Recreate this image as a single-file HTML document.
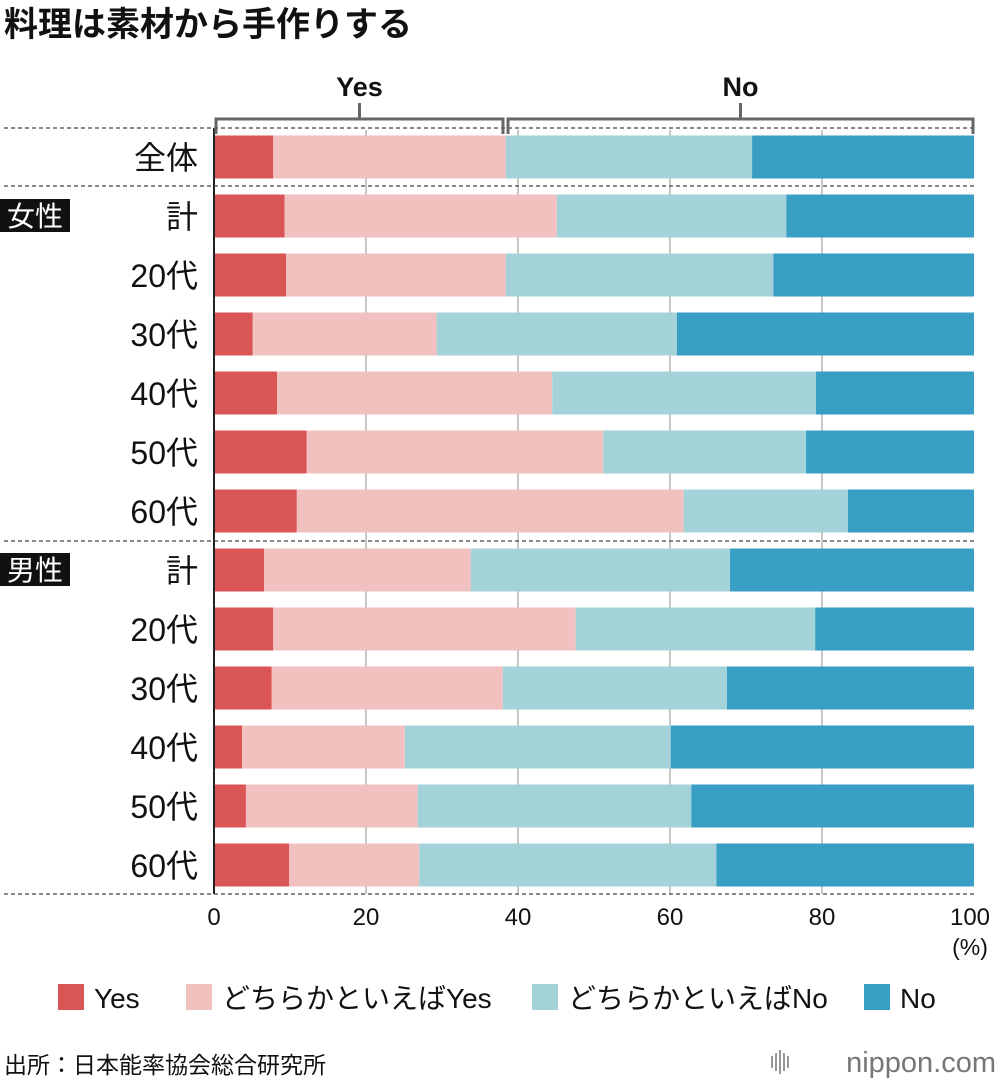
<!DOCTYPE html>
<html><head><meta charset="utf-8">
<style>
body{margin:0;background:#fff;font-family:"Liberation Sans","Noto Sans CJK JP",sans-serif;}
#wrap{position:relative;width:1000px;height:1086px;overflow:hidden;}
</style></head>
<body>
<div id="wrap">
<svg id="chart" width="1000" height="1086" xmlns="http://www.w3.org/2000/svg" font-family="Liberation Sans, Noto Sans CJK JP, sans-serif"></svg>
</div>
<script>
const categories=["全体","計","20代","30代","40代","50代","60代","計","20代","30代","40代","50代","60代"];
const yesVals=[7.8,9.3,9.5,5.1,8.3,12.2,10.9,6.6,7.8,7.6,3.7,4.2,9.9];
const someYesVals=[30.6,35.8,28.9,24.2,36.2,39.0,50.9,27.2,39.8,30.4,21.4,22.6,17.1];
const someNoVals=[32.4,30.2,35.2,31.6,34.7,26.7,21.6,34.1,31.5,29.5,35.0,36.0,39.1];
const noVals=[29.2,24.7,26.4,39.1,20.8,22.1,16.6,32.1,20.9,32.5,39.9,37.2,33.9];
const ticks=[0,20,40,60,80,100];
const seriesNames=["Yes","どちらかといえばYes","どちらかといえばNo","No"];
const colors=["#da5555","#f1c1c0","#a3d3d9","#399ec4"];

const svg=document.getElementById('chart');
const NS="http://www.w3.org/2000/svg";
function mk(t,a,txt){const e=document.createElementNS(NS,t);for(const k in a)e.setAttribute(k,a[k]);if(txt!==undefined)e.textContent=txt;svg.appendChild(e);return e;}
const x0=214,x1=974;
const xs=v=>x0+(x1-x0)*v/100;
const ys=i=>157+(i===0?0:59*i);
const barH=43;

let t=mk('text',{x:4,y:36,'font-size':34,'font-weight':'bold',fill:'#111'},'料理は素材から手作りする');


ticks.forEach(v=>{
  if(v===0||v===100)return;
  const l=mk('line',{x1:xs(v),x2:xs(v),y1:130,y2:894,stroke:'#c8c8c8','stroke-width':2});
  
});

categories.forEach((c,i)=>{
  const vals=[yesVals[i],someYesVals[i],someNoVals[i],noVals[i]];
  let cum=0;
  vals.forEach((v,j)=>{
    const r=mk('rect',{x:xs(cum),y:ys(i)-barH/2,width:xs(cum+v)-xs(cum),height:barH,fill:colors[j]});
    
    cum+=v;
  });
  const lb=mk('text',{x:198,y:ys(i)+12,'font-size':32,'text-anchor':'end',fill:'#111'},c);
  
});

let a=mk('line',{x1:x0,x2:x0,y1:128,y2:894,stroke:'#222','stroke-width':2});


[128,186,541,894].forEach(y=>{
  const l=mk('line',{x1:4,x2:974,y1:y,y2:y,stroke:'#444','stroke-width':1.3,'stroke-dasharray':'4,3'});
  
});

[["女性",216],["男性",570]].forEach(([s,y])=>{
  const r=mk('rect',{x:0,y:y-17,width:70,height:33,fill:'#111'});
  
  const tx=mk('text',{x:35,y:y+10,'font-size':28,'text-anchor':'middle',fill:'#fff'},s);
  
});

function bracket(xa,xb,label){
  const p=mk('path',{d:`M${xa},134 V119 H${xb} V134`,fill:'none',stroke:'#666','stroke-width':3});
  
  const m=(xa+xb)/2;
  const k=mk('line',{x1:m,x2:m,y1:119,y2:103,stroke:'#666','stroke-width':3});
  
  const tx=mk('text',{x:m,y:96,'font-size':27,'font-weight':'bold','text-anchor':'middle',fill:'#111'},label);
  
}
bracket(216,503,"Yes");bracket(508,973,"No");

ticks.forEach(v=>{
  const tx=mk('text',{x:v===100?xs(v)-4:xs(v),y:925,'font-size':24,'text-anchor':'middle',fill:'#111'},String(v));
  
});
t=mk('text',{x:970,y:955,'font-size':23,'text-anchor':'middle',fill:'#111'},'(%)');


const lx=[58,186,532,864];
seriesNames.forEach((s,j)=>{
  const r=mk('rect',{x:lx[j],y:984,width:26,height:26,fill:colors[j]});
  
  const tx=mk('text',{x:lx[j]+36,y:1008,'font-size':28,fill:'#111'},s);
  
});

t=mk('text',{x:4,y:1073,'font-size':23,fill:'#111'},'出所：日本能率協会総合研究所');

t=mk('text',{x:996,y:1072,'font-size':29,'text-anchor':'end',fill:'#777'},'nippon.com');

for(let i=0;i<5;i++){
  const l=mk('line',{x1:772+i*4,x2:772+i*4,y1:1050+Math.abs(2-i)*3,y2:1074-Math.abs(2-i)*3,stroke:'#999','stroke-width':2});
  
}
</script>
</body></html>
